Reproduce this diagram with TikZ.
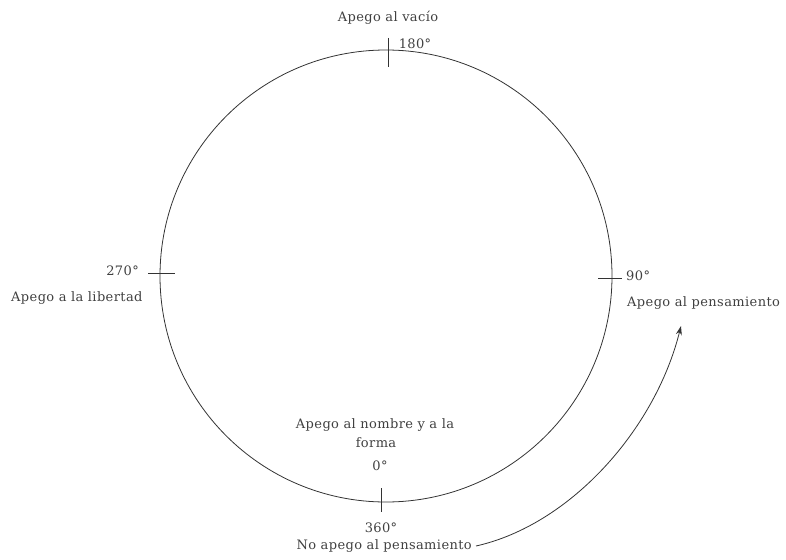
\documentclass[tikz,border=0pt]{standalone}
\usepackage{fontspec}
\setmainfont{DejaVu Serif}[LetterSpace=3]
\usetikzlibrary{arrows.meta}
\begin{document}
\begin{tikzpicture}[x=1pt,y=-1pt,
  lbl/.style={inner sep=0pt,font=\fontsize{13}{15}\selectfont,text=black!75},
  tick/.style={line width=0.8pt,black!80},
  ln/.style={line width=0.8pt,black!80}]
\useasboundingbox (0,0) rectangle (786,559);
\coordinate (c) at (386,276);
\draw[ln] (c) circle[radius=226];
% ticks
\coordinate (t1) at (388,38); \coordinate (t2) at (388,67);
\draw[tick] (t1) -- (t2);
\coordinate (l1) at (148,273); \coordinate (l2) at (175,273);
\draw[tick] (l1) -- (l2);
\coordinate (r1) at (598,278); \coordinate (r2) at (622,278);
\draw[tick] (r1) -- (r2);
\coordinate (b1) at (381,488); \coordinate (b2) at (381,512);
\draw[tick] (b1) -- (b2);
% labels
\node[lbl] (vacio) at (388,18) {Apego al vacío};
\node[lbl] (d180) at (415,44) {180°};
\node[lbl,anchor=east] (d270) at (139,271) {270°};
\node[lbl,anchor=west] (lib) at (11,298) {Apego a la libertad};
\node[lbl,anchor=west] (d90) at (626,276) {90°};
\node[lbl,anchor=west] (pens) at (627,303) {Apego al pensamiento};
\node[lbl] (nom) at (375,425) {Apego al nombre y a la};
\node[lbl] (forma) at (376,443) {forma};
\node[lbl] (d0) at (380,466) {0°};
\node[lbl] (d360) at (381,528) {360°};
\node[lbl,anchor=east] (nopens) at (472,546) {No apego al pensamiento};
\coordinate (tip) at (681,326);
\draw[ln,-{Stealth[length=9pt,width=6pt]}] (nopens.east) ++(4,0) .. controls (570,525) and (655,430) .. (tip);
\end{tikzpicture}
\end{document}
